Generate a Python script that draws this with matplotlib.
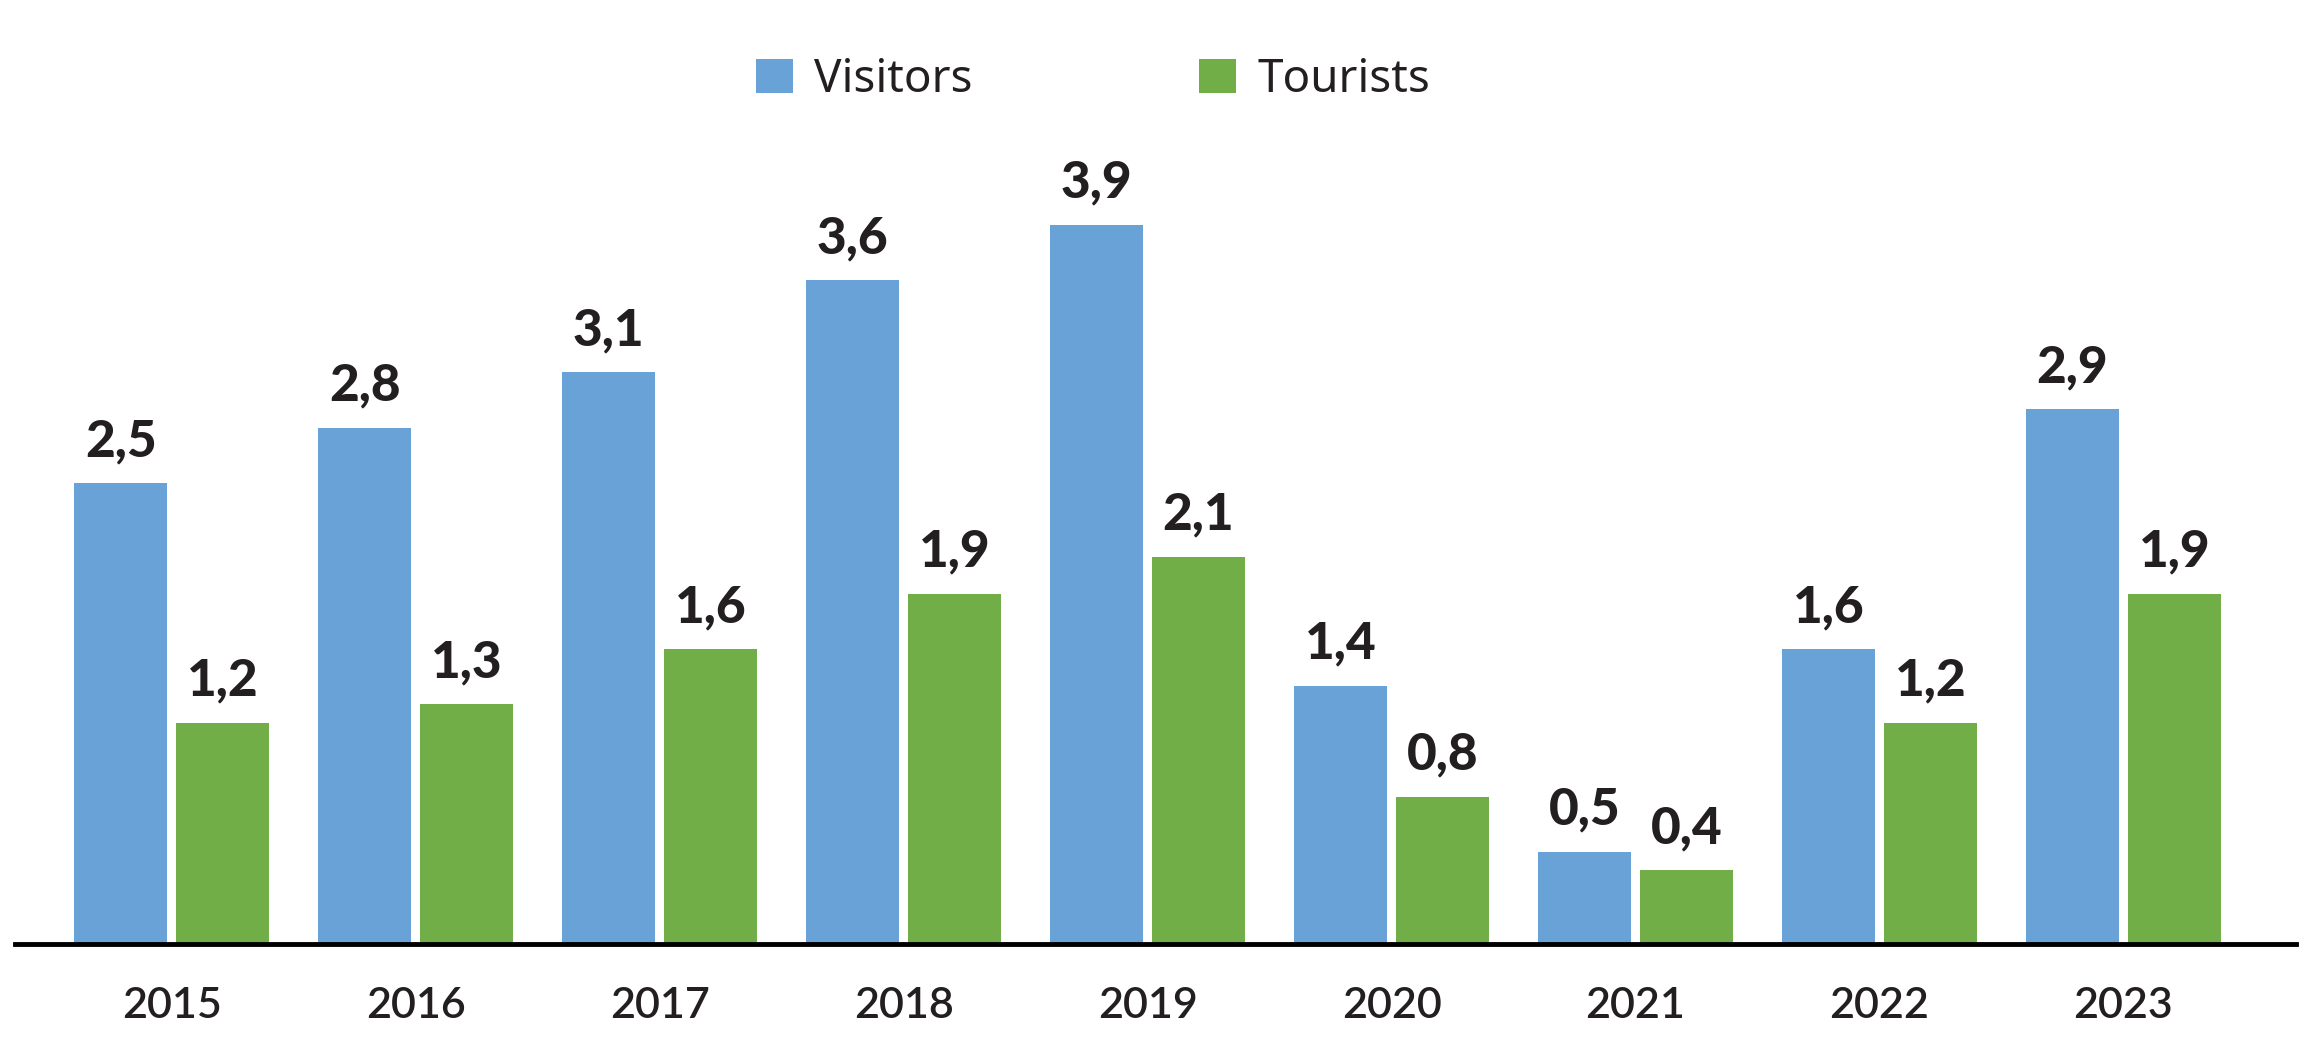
import matplotlib
matplotlib.use("Agg")
import matplotlib.pyplot as plt
from matplotlib.patches import Patch
import numpy as np

years = ["2015", "2016", "2017", "2018", "2019", "2020", "2021", "2022", "2023"]
visitors = [2.5, 2.8, 3.1, 3.6, 3.9, 1.4, 0.5, 1.6, 2.9]
tourists = [1.2, 1.3, 1.6, 1.9, 2.1, 0.8, 0.4, 1.2, 1.9]
series_names = ["Visitors", "Tourists"]

BLUE = "#68A2D7"
GREEN = "#71AE48"
TEXT = "#231F20"

fig = plt.figure(figsize=(23.2, 10.62), dpi=100)
ax = fig.add_axes([15 / 2320, 1 - 944 / 1062, (2296 - 15) / 2320, 944 / 1062])

x = np.arange(len(years))
w = 0.382
off = 0.209
b1 = ax.bar(x - off, visitors, w, color=BLUE)
b2 = ax.bar(x + off, tourists, w, color=GREEN)

def fmt(v):
    return f"{v:.1f}".replace(".", ",")

for bars, vals in ((b1, visitors), (b2, tourists)):
    for r, v in zip(bars, vals):
        ax.annotate(fmt(v), (r.get_x() + r.get_width() / 2, v),
                    xytext=(0, 13), textcoords="offset points",
                    ha="center", va="bottom", fontsize=37,
                    fontfamily="Lato", fontweight="black", color=TEXT)

ax.set_xlim(-0.643, 8.708)
ax.set_ylim(0, 5.12)
ax.set_xticks(x)
ax.set_xticklabels(years, fontsize=31, fontfamily="Lato", fontweight="semibold", color=TEXT)
ax.tick_params(axis="x", length=0, pad=31)
ax.set_yticks([])
for s in ("top", "left", "right"):
    ax.spines[s].set_visible(False)
ax.spines["bottom"].set_linewidth(3.5)
ax.spines["bottom"].set_color("black")

handles = [Patch(facecolor=BLUE), Patch(facecolor=GREEN)]
fig.legend(handles, series_names, loc="center",
           bbox_to_anchor=(1093 / 2320, 1 - 80 / 1062),
           ncol=2, frameon=False, prop={"family": "Noto Sans", "size": 33},
           handlelength=0.81, handleheight=0.75, handletextpad=0.45,
           columnspacing=4.95, labelcolor=TEXT)

fig.savefig("out.png", dpi=100, facecolor="white")
